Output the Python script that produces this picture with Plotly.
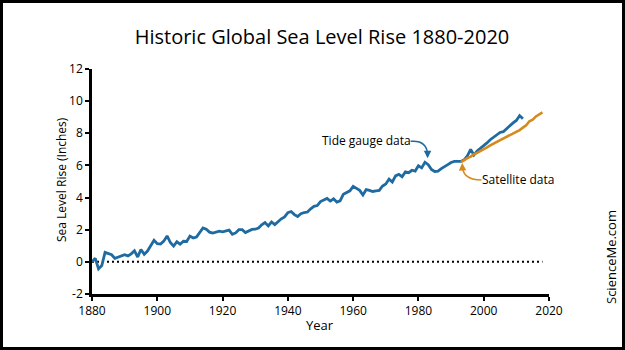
import plotly.graph_objects as go

# ---- data ----
tide_years = list(range(1880, 2013))
tide_values = [
    0.00, 0.22, -0.44, -0.23, 0.59, 0.53, 0.44, 0.22, 0.30, 0.36,   # 1880s
    0.44, 0.37, 0.50, 0.69, 0.30, 0.77, 0.47, 0.67, 1.04, 1.34,     # 1890s
    1.13, 1.11, 1.29, 1.61, 1.20, 0.98, 1.25, 1.10, 1.28, 1.27,     # 1900s
    1.60, 1.48, 1.55, 1.80, 2.11, 2.03, 1.85, 1.79, 1.85, 1.91,     # 1910s
    1.87, 1.93, 1.98, 1.71, 1.80, 2.00, 2.00, 1.82, 1.92, 2.02,     # 1920s
    2.03, 2.11, 2.31, 2.45, 2.24, 2.48, 2.32, 2.52, 2.68, 2.80,     # 1930s
    3.06, 3.13, 2.94, 2.82, 2.99, 3.07, 3.10, 3.30, 3.45, 3.50,     # 1940s
    3.75, 3.85, 3.95, 3.78, 3.92, 3.72, 3.80, 4.20, 4.30, 4.42,     # 1950s
    4.70, 4.55, 4.45, 4.16, 4.50, 4.45, 4.38, 4.42, 4.45, 4.72,     # 1960s
    4.85, 5.15, 4.97, 5.35, 5.45, 5.30, 5.60, 5.55, 5.70, 5.65,     # 1970s
    5.98, 5.85, 6.20, 6.05, 5.75, 5.62, 5.65, 5.80, 5.95, 6.05,     # 1980s
    6.18, 6.25, 6.25, 6.25, 6.35, 6.60, 7.00, 6.65, 6.90, 7.05,     # 1990s
    7.25, 7.40, 7.60, 7.75, 7.85, 8.05, 8.10, 8.30, 8.45, 8.65,     # 2000s
    8.80, 9.10, 8.90,                                               # 2010s
]

sat_years = list(range(1993, 2019))
sat_values = [
    6.20, 6.35, 6.45, 6.55, 6.70, 6.78, 6.88, 7.00, 7.12, 7.25,
    7.35, 7.45, 7.55, 7.65, 7.75, 7.85, 7.95, 8.05, 8.20, 8.35,
    8.50, 8.75, 8.85, 9.05, 9.20, 9.30,
]

zero_x = [1880, 2018]
zero_y = [0, 0]

x_ticks = [1880, 1900, 1920, 1940, 1960, 1980, 2000, 2020]
y_ticks = [-2, 0, 2, 4, 6, 8, 10, 12]

BLUE = "#1f6aa0"
ORANGE = "#d68a1c"
FONT = "Open Sans"

W, H = 625, 350
ML, MR, MT, MB = 92, 76, 69, 56
PW, PH = W - ML - MR, H - MT - MB

def px_x(px):
    return (px - ML) / PW

def px_y(py):
    return (MT + PH - py) / PH

fig = go.Figure()
fig.add_trace(go.Scatter(x=zero_x, y=zero_y, mode="lines",
                         line=dict(color="black", width=2, dash="2px,3px"),
                         hoverinfo="skip"))
fig.add_trace(go.Scatter(x=tide_years, y=tide_values, mode="lines",
                         line=dict(color=BLUE, width=2.8), name="Tide gauge data"))
fig.add_trace(go.Scatter(x=sat_years, y=sat_values, mode="lines",
                         line=dict(color=ORANGE, width=2.6), name="Satellite data"))

fig.update_layout(
    width=W, height=H,
    margin=dict(l=ML, r=MR, t=MT, b=MB),
    paper_bgcolor="white", plot_bgcolor="white",
    showlegend=False,
    font=dict(family=FONT, color="black"),
    title=dict(text="Historic Global Sea Level Rise 1880-2020",
               x=322 / W, xanchor="center", y=1 - 37 / H, yanchor="middle",
               font=dict(size=20, family=FONT, color="black")),
    xaxis=dict(range=[1880, 2020], tickvals=x_ticks, ticktext=[str(v) for v in x_ticks],
               showgrid=False, zeroline=False, showline=True, linecolor="black",
               linewidth=2.5, ticks="outside", ticklen=4, tickwidth=1.5,
               tickcolor="black", tickfont=dict(size=12, family=FONT)),
    yaxis=dict(range=[-2, 12], tickvals=y_ticks, ticktext=[str(v) for v in y_ticks],
               showgrid=False, zeroline=False, showline=True, linecolor="black",
               linewidth=2.5, ticks="outside", ticklen=4, tickwidth=1.5,
               tickcolor="black", tickfont=dict(size=12, family=FONT)),
)

# axis titles
fig.add_annotation(text="Year", xref="paper", yref="paper",
                   x=px_x(320), y=px_y(325), xanchor="center", yanchor="middle",
                   showarrow=False, font=dict(size=13, family=FONT))
fig.add_annotation(text="Sea Level Rise (Inches)", xref="paper", yref="paper",
                   x=px_x(61), y=px_y(180), xanchor="center", yanchor="middle",
                   textangle=-90, showarrow=False, font=dict(size=12, family=FONT))
# watermark
fig.add_annotation(text="ScienceMe.com", xref="paper", yref="paper",
                   x=px_x(611), y=px_y(257), xanchor="center", yanchor="middle",
                   textangle=-90, showarrow=False, font=dict(size=13, family=FONT))

# labels with curved arrows
fig.add_annotation(text="Tide gauge data", x=1964.0, y=7.55, xref="x", yref="y",
                   showarrow=False, font=dict(size=12, family=FONT))
fig.add_shape(type="path", xref="x", yref="y",
              path="M 1977.6,7.5 Q 1982.3,7.6 1982.8,6.75",
              line=dict(color=BLUE, width=1.5))
fig.add_annotation(x=1982.8, y=6.45, ax=1982.8, ay=6.85, xref="x", yref="y",
                   axref="x", ayref="y", text="", showarrow=True,
                   arrowhead=2, arrowsize=1, arrowwidth=1.5, arrowcolor=BLUE)

fig.add_annotation(text="Satellite data", x=2010.5, y=5.15, xref="x", yref="y",
                   showarrow=False, font=dict(size=12, family=FONT))
fig.add_shape(type="path", xref="x", yref="y",
              path="M 1999.3,5.1 Q 1994.0,5.1 1993.5,5.85",
              line=dict(color=ORANGE, width=1.5))
fig.add_annotation(x=1993.4, y=6.15, ax=1993.5, ay=5.75, xref="x", yref="y",
                   axref="x", ayref="y", text="", showarrow=True,
                   arrowhead=2, arrowsize=1, arrowwidth=1.5, arrowcolor=ORANGE)

# outer frame around the whole picture
fig.add_shape(type="rect", xref="paper", yref="paper",
              x0=-(ML - 1.5) / PW, x1=1 + (MR - 1.5) / PW,
              y0=-(MB - 1.5) / PH, y1=1 + (MT - 1.5) / PH,
              line=dict(color="black", width=3), layer="above")

fig.write_html("out.html")
